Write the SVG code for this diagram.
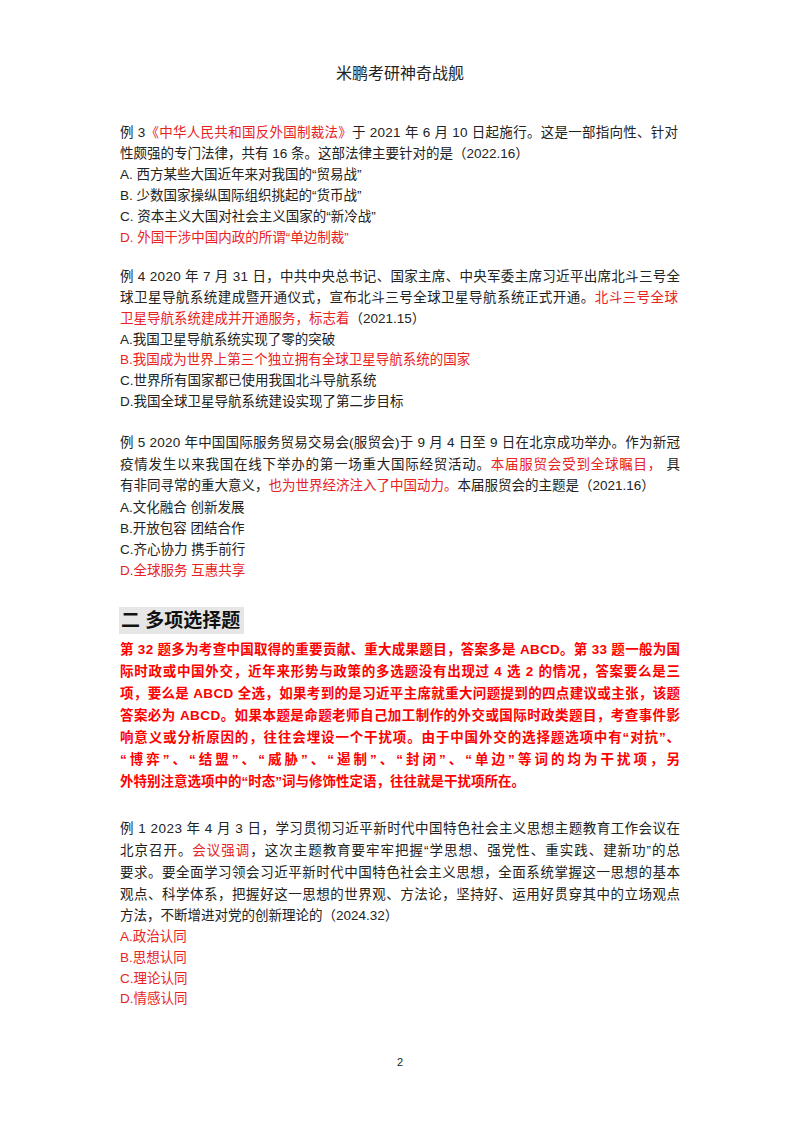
<svg xmlns="http://www.w3.org/2000/svg" width="800" height="1132" viewBox="0 0 800 1132">
<style>
text{font-family:"Liberation Sans","Noto Sans CJK SC",sans-serif;font-size:13.5px;fill:#222}
.r{fill:#e8231f}
.b{font-weight:bold;fill:#f00}
</style>
<rect width="800" height="1132" fill="#fff"/>
<text x="400" y="79" text-anchor="middle" style="font-size:16px">米鹏考研神奇战舰</text>
<g id="q3">
<text x="120" y="137" textLength="558" lengthAdjust="spacing">例 3<tspan class="r">《中华人民共和国反外国制裁法》</tspan>于 2021 年 6 月 10 日起施行。这是一部指向性、针对</text>
<text x="120" y="158">性颇强的专门法律，共有 16 条。这部法律主要针对的是（2022.16）</text>
<text x="120" y="179">A.  西方某些大国近年来对我国的“贸易战”</text>
<text x="120" y="200">B.  少数国家操纵国际组织挑起的“货币战”</text>
<text x="120" y="221">C.  资本主义大国对社会主义国家的“新冷战”</text>
<text x="120" y="242" class="r">D.  外国干涉中国内政的所谓“单边制裁”</text>
</g>
<g id="q4">
<text x="120" y="281" textLength="560" lengthAdjust="spacing">例 4 2020 年 7 月 31 日，中共中央总书记、国家主席、中央军委主席习近平出席北斗三号全</text>
<text x="120" y="302" textLength="558" lengthAdjust="spacing">球卫星导航系统建成暨开通仪式，宣布北斗三号全球卫星导航系统正式开通。<tspan class="r">北斗三号全球</tspan></text>
<text x="120" y="323" class="r">卫星导航系统建成并开通服务，标志着<tspan style="fill:#222">（2021.15）</tspan></text>
<text x="120" y="344">A.我国卫星导航系统实现了零的突破</text>
<text x="120" y="364" class="r">B.我国成为世界上第三个独立拥有全球卫星导航系统的国家</text>
<text x="120" y="385">C.世界所有国家都已使用我国北斗导航系统</text>
<text x="120" y="406">D.我国全球卫星导航系统建设实现了第二步目标</text>
</g>
<g id="q5">
<text x="120" y="447" textLength="560" lengthAdjust="spacing">例 5 2020 年中国国际服务贸易交易会(服贸会)于 9 月 4 日至 9 日在北京成功举办。作为新冠</text>
<text x="120" y="469" textLength="560" lengthAdjust="spacing">疫情发生以来我国在线下举办的第一场重大国际经贸活动。<tspan class="r">本届服贸会受到全球瞩目，</tspan> 具</text>
<text x="120" y="490">有非同寻常的重大意义，<tspan class="r">也为世界经济注入了中国动力。</tspan>本届服贸会的主题是（2021.16）</text>
<text x="120" y="512">A.文化融合 创新发展</text>
<text x="120" y="533">B.开放包容 团结合作</text>
<text x="120" y="554">C.齐心协力 携手前行</text>
<text x="120" y="575" class="r">D.全球服务 互惠共享</text>
</g>
<g id="sec2">
<rect x="119" y="607" width="125" height="27" fill="#e6e6e6"/>
<text x="121" y="627" style="font-size:19px;font-weight:bold;fill:#111">二  多项选择题</text>
<text x="120" y="654" class="b" textLength="560" lengthAdjust="spacing">第 32 题多为考查中国取得的重要贡献、重大成果题目，答案多是 ABCD。第 33 题一般为国</text>
<text x="120" y="676" class="b" textLength="560" lengthAdjust="spacing">际时政或中国外交，近年来形势与政策的多选题没有出现过 4 选 2 的情况，答案要么是三</text>
<text x="120" y="698" class="b" textLength="560" lengthAdjust="spacing">项，要么是 ABCD 全选，如果考到的是习近平主席就重大问题提到的四点建议或主张，该题</text>
<text x="120" y="720" class="b" textLength="560" lengthAdjust="spacing">答案必为 ABCD。如果本题是命题老师自己加工制作的外交或国际时政类题目，考查事件影</text>
<text x="120" y="742" class="b" textLength="560" lengthAdjust="spacing">响意义或分析原因的，往往会埋设一个干扰项。由于中国外交的选择题选项中有“对抗”、</text>
<text x="120" y="764" class="b" textLength="560" lengthAdjust="spacing">“博弈”、“结盟”、“威胁”、“遏制”、“封闭”、“单边”等词的均为干扰项，另</text>
<text x="120" y="786" class="b">外特别注意选项中的“时态”词与修饰性定语，往往就是干扰项所在。</text>
</g>
<g id="q1">
<text x="120" y="833" textLength="560" lengthAdjust="spacing">例 1 2023 年 4 月 3 日，学习贯彻习近平新时代中国特色社会主义思想主题教育工作会议在</text>
<text x="120" y="855" textLength="560" lengthAdjust="spacing">北京召开。<tspan class="r">会议强调</tspan>，这次主题教育要牢牢把握“学思想、强党性、重实践、建新功”的总</text>
<text x="120" y="877" textLength="560" lengthAdjust="spacing">要求。要全面学习领会习近平新时代中国特色社会主义思想，全面系统掌握这一思想的基本</text>
<text x="120" y="899" textLength="560" lengthAdjust="spacing">观点、科学体系，把握好这一思想的世界观、方法论，坚持好、运用好贯穿其中的立场观点</text>
<text x="120" y="920">方法，不断增进对党的创新理论的（2024.32）</text>
<text x="120" y="941" class="r">A.政治认同</text>
<text x="120" y="962" class="r">B.思想认同</text>
<text x="120" y="983" class="r">C.理论认同</text>
<text x="120" y="1003" class="r">D.情感认同</text>
</g>
<text x="400" y="1066" text-anchor="middle" style="font-size:11px">2</text>
</svg>
